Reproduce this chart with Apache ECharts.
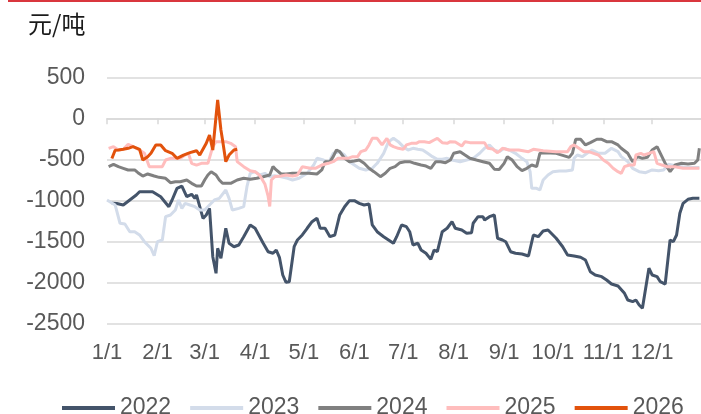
<!DOCTYPE html>
<html>
<head>
<meta charset="utf-8">
<script src="https://cdn.jsdelivr.net/npm/echarts@6/dist/echarts.min.js"></script>
<style>
html,body{margin:0;padding:0;background:#fff;}
#c{width:701px;height:414px;}
</style>
</head>
<body>
<div id="c"></div>
<script>
// x = day of year (leap-year calendar), y = 元/吨
const monthStartDays = [0,31,60,91,121,152,182,213,244,274,305,335];
const monthLabels = ['1/1','2/1','3/1','4/1','5/1','6/1','7/1','8/1','9/1','10/1','11/1','12/1'];
const seriesNames = ['2022','2023','2024','2025','2026'];

const s2022 = [[3,-1037],[6,-1040],[10,-1057],[14,-996],[18,-935],[20,-895],[28,-895],[33,-956],[38,-1078],[40,-996],[43,-854],[46,-826],[49,-956],[52,-927],[54,-976],[55,-935],[57,-1078],[59,-1220],[61,-1179],[63,-1098],[65,-1688],[67,-1890],[68,-1585],[70,-1707],[73,-1341],[75,-1524],[78,-1566],[81,-1545],[84,-1444],[88,-1301],[91,-1341],[96,-1524],[99,-1627],[102,-1646],[104,-1606],[106,-1700],[108,-1911],[110,-2000],[112,-1993],[115,-1566],[117,-1484],[120,-1423],[123,-1341],[126,-1261],[129,-1220],[130,-1200],[131,-1341],[134,-1341],[137,-1444],[140,-1423],[143,-1179],[146,-1078],[149,-1004],[152,-1004],[155,-1037],[158,-1057],[161,-1045],[163,-1301],[166,-1383],[170,-1444],[173,-1484],[176,-1524],[178,-1444],[181,-1301],[184,-1322],[186,-1383],[188,-1545],[191,-1524],[193,-1606],[196,-1646],[199,-1720],[201,-1606],[203,-1627],[206,-1383],[209,-1341],[212,-1261],[214,-1341],[218,-1362],[221,-1402],[224,-1395],[225,-1280],[228,-1200],[231,-1200],[232,-1240],[235,-1200],[238,-1179],[240,-1463],[243,-1484],[245,-1505],[248,-1627],[251,-1646],[255,-1655],[259,-1679],[262,-1423],[265,-1444],[268,-1374],[271,-1362],[276,-1463],[280,-1566],[283,-1667],[287,-1679],[291,-1695],[294,-1728],[297,-1871],[300,-1911],[304,-1931],[307,-1972],[310,-2021],[314,-2045],[318,-2134],[320,-2216],[323,-2236],[325,-2216],[327,-2277],[329,-2317],[333,-1829],[335,-1911],[338,-1931],[340,-1993],[343,-2021],[344,-2012],[346,-1484],[348,-1505],[350,-1423],[352,-1159],[354,-1037],[357,-988],[360,-976],[364,-976]];

const s2023 = [[0,-996],[5,-1057],[8,-1280],[11,-1289],[14,-1383],[17,-1383],[20,-1423],[23,-1505],[27,-1585],[29,-1676],[31,-1505],[34,-1484],[36,-1200],[39,-1179],[42,-1118],[44,-996],[46,-1098],[48,-1037],[51,-1057],[54,-1078],[57,-1118],[60,-1118],[63,-1057],[66,-996],[69,-976],[73,-874],[75,-976],[77,-1118],[81,-1098],[84,-1078],[86,-834],[88,-671],[91,-651],[94,-691],[97,-671],[100,-712],[103,-700],[107,-712],[111,-732],[114,-752],[118,-732],[123,-671],[127,-570],[129,-488],[133,-509],[136,-549],[139,-427],[143,-407],[146,-448],[149,-529],[152,-570],[155,-610],[159,-630],[163,-610],[166,-549],[170,-427],[173,-285],[176,-244],[179,-285],[182,-346],[185,-387],[188,-366],[191,-378],[194,-387],[197,-427],[200,-468],[203,-500],[206,-500],[209,-488],[212,-509],[217,-529],[221,-509],[225,-488],[229,-427],[232,-366],[235,-325],[238,-387],[241,-407],[244,-366],[247,-387],[251,-427],[255,-488],[258,-529],[260,-651],[261,-854],[264,-854],[266,-874],[268,-752],[271,-691],[274,-651],[278,-643],[282,-643],[286,-630],[287,-488],[289,-448],[292,-468],[295,-427],[298,-387],[302,-427],[306,-427],[310,-366],[314,-407],[316,-468],[320,-529],[323,-610],[327,-651],[331,-663],[335,-630],[339,-639],[342,-630],[345,-560],[350,-580],[356,-600],[364,-600]];

const s2024 = [[1,-588],[4,-561],[7,-590],[10,-610],[13,-630],[17,-630],[19,-663],[22,-704],[25,-679],[29,-704],[32,-720],[36,-732],[39,-785],[42,-773],[45,-773],[49,-752],[52,-793],[55,-826],[58,-826],[60,-752],[62,-691],[64,-651],[67,-691],[69,-752],[71,-793],[76,-793],[80,-752],[84,-732],[88,-744],[92,-732],[96,-712],[100,-691],[102,-588],[104,-630],[107,-679],[110,-679],[114,-671],[118,-671],[124,-671],[129,-679],[132,-630],[134,-529],[137,-529],[139,-468],[141,-387],[143,-407],[146,-488],[149,-529],[152,-520],[155,-509],[158,-549],[161,-610],[164,-651],[168,-712],[171,-671],[174,-610],[177,-590],[180,-541],[183,-529],[186,-529],[189,-549],[193,-570],[196,-582],[199,-610],[202,-529],[205,-529],[208,-541],[211,-509],[213,-427],[217,-407],[220,-448],[223,-488],[227,-509],[231,-529],[235,-549],[238,-620],[241,-625],[244,-549],[246,-468],[249,-509],[252,-590],[255,-639],[258,-610],[261,-570],[264,-590],[266,-427],[269,-419],[276,-427],[284,-476],[286,-427],[288,-256],[291,-256],[294,-325],[297,-297],[301,-256],[304,-256],[307,-285],[310,-285],[314,-325],[316,-366],[320,-427],[323,-529],[326,-468],[329,-488],[332,-476],[335,-387],[338,-346],[341,-468],[344,-590],[346,-651],[349,-570],[353,-549],[357,-557],[361,-549],[363,-509],[364,-366]];

const s2025 = [[1,-366],[4,-346],[7,-387],[10,-378],[13,-317],[16,-346],[20,-387],[23,-427],[26,-590],[30,-590],[34,-590],[36,-509],[39,-488],[42,-488],[45,-488],[48,-448],[50,-427],[52,-549],[55,-570],[58,-549],[62,-549],[65,-346],[67,-285],[70,-285],[73,-285],[76,-305],[79,-346],[80,-529],[84,-590],[88,-640],[91,-651],[94,-700],[97,-800],[99,-950],[100,-1075],[101,-752],[103,-712],[107,-704],[110,-691],[114,-704],[117,-691],[120,-590],[125,-610],[128,-610],[132,-570],[136,-549],[139,-529],[142,-488],[145,-488],[148,-488],[151,-468],[154,-468],[156,-407],[159,-387],[161,-325],[163,-244],[166,-244],[169,-325],[172,-244],[174,-325],[176,-346],[179,-366],[182,-378],[184,-325],[187,-305],[190,-305],[192,-285],[195,-285],[198,-297],[201,-265],[203,-244],[206,-297],[209,-305],[211,-285],[214,-290],[218,-338],[220,-285],[223,-297],[226,-297],[229,-297],[232,-297],[234,-366],[237,-375],[240,-420],[243,-366],[247,-387],[253,-387],[259,-407],[262,-378],[268,-395],[276,-407],[283,-407],[285,-346],[287,-325],[290,-366],[293,-407],[296,-407],[299,-427],[302,-448],[305,-509],[308,-549],[311,-610],[314,-651],[316,-671],[318,-590],[321,-570],[324,-570],[325,-448],[328,-427],[330,-448],[333,-427],[336,-407],[338,-549],[341,-570],[344,-590],[349,-590],[354,-610],[360,-610],[364,-610]];

const s2026 = [[3,-490],[5,-390],[7,-387],[10,-378],[13,-366],[16,-346],[20,-378],[22,-509],[25,-468],[27,-427],[30,-325],[33,-325],[36,-395],[40,-427],[43,-488],[47,-448],[51,-419],[55,-395],[57,-448],[61,-305],[63,-203],[65,-387],[67,22],[68,223],[70,-143],[71,-265],[73,-529],[75,-448],[78,-387],[80,-378]];

const colors = ['#44546A','#D3DCEA','#808080','#FFBDBD','#E2520C'];
const allData = [s2022,s2023,s2024,s2025,s2026];

const chart = echarts.init(document.getElementById('c'), null, {renderer:'canvas'});
const FONT = '"Liberation Sans", Arial, sans-serif';
const gridColor = '#d9d9d9';

chart.setOption({
  animation:false,
  color: colors,
  textStyle:{fontFamily:FONT},
  graphic:[
    {type:'line', shape:{x1:8,y1:1,x2:701,y2:1}, style:{stroke:'#d9363e', lineWidth:2}, silent:true},
    {type:'text', left:28, top:12, style:{text:'元/吨', fontSize:24, fill:'#1a1a1a', fontFamily:'"Noto Sans CJK SC", sans-serif'}}
  ],
  grid:{left:107, top:77.3, width:595, height:246},
  legend:{
    left:57, top:391,
    icon:'rect', itemWidth:53, itemHeight:4, itemGap:19,
    textStyle:{fontSize:23, color:'#595959', fontFamily:FONT, lineHeight:24},
    data: seriesNames
  },
  xAxis:[
    {
      type:'value', min:0, max:365,
      axisLine:{onZero:true, lineStyle:{color:gridColor, width:1.5}},
      axisTick:{show:true, length:6, customValues:monthStartDays, lineStyle:{color:gridColor, width:1.5}},
      axisLabel:{show:false},
      splitLine:{show:false}
    },
    {
      type:'value', min:0, max:365, position:'bottom',
      axisLine:{show:false, onZero:false},
      axisTick:{show:false},
      splitLine:{show:false},
      axisLabel:{
        show:true, margin:19, fontSize:22, color:'#595959', fontFamily:FONT,
        customValues:monthStartDays,
        formatter:function(v){ const i = monthStartDays.indexOf(v); return i>=0 ? monthLabels[i] : ''; }
      }
    }
  ],
  yAxis:{
    type:'value', min:-2500, max:500, interval:500,
    axisLine:{show:false}, axisTick:{show:false},
    axisLabel:{fontSize:23, color:'#595959', margin:22, fontFamily:FONT, formatter:function(v){ return String(v); }},
    splitLine:{lineStyle:{color:gridColor, width:1.5}}
  },
  series: seriesNames.map(function(n,i){
    return {
      name:n, type:'line', data:allData[i], xAxisIndex:0,
      showSymbol:false, symbol:'none', smooth:false,
      lineStyle:{width:3, color:colors[i]},
      itemStyle:{color:colors[i]},
      z: 2+i
    };
  })
});
</script>
</body>
</html>
